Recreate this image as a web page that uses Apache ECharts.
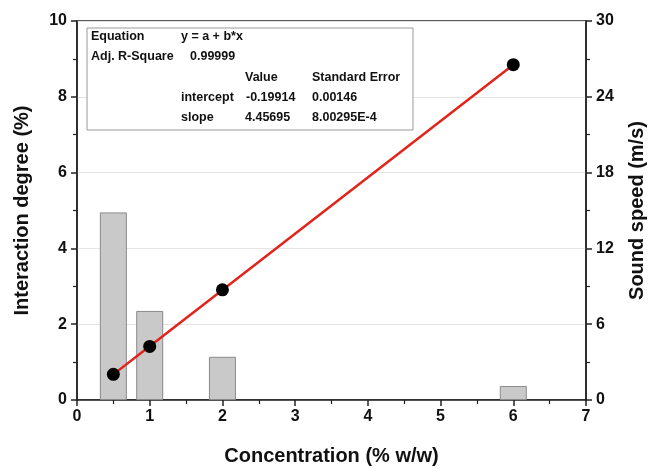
<!DOCTYPE html>
<html lang="en">
<head>
    <meta charset="UTF-8">
    <title>Interaction degree and sound speed</title>
    <script src="https://cdn.jsdelivr.net/npm/echarts@6/dist/echarts.min.js"></script>
    <style>
        body, html { margin: 0; padding: 0; background: #fff; }
        #chart { width: 652px; height: 469px; }
    </style>
</head>
<body>
    <div id="chart"></div>
    <script>
        // bar data: interaction degree (%) vs concentration
        var barX = [0.5, 1, 2, 6];
        var interaction = [4.95, 2.35, 1.14, 0.37];
        // sound speed points and linear fit
        var pointX = [0.5, 1, 2, 6];
        var soundSpeed = [2.03, 4.24, 8.72, 26.54];
        var fitSpeed = [2.029, 4.258, 8.715, 26.542];
        // fit table rows
        var tableRows = [
            ['Equation', 'y = a + b*x', ''],
            ['Adj. R-Square', '0.99999', ''],
            ['', 'Value', 'Standard Error'],
            ['intercept', '-0.19914', '0.00146'],
            ['slope', '4.45695', '8.00295E-4']
        ];

        var font = 'Liberation Sans, Arial, sans-serif';

        var graphics = [{
            type: 'rect',
            shape: { x: 87, y: 28, width: 326, height: 102 },
            style: { fill: '#fff', stroke: '#999', lineWidth: 1 },
            z: 10
        }];
        // column x position for each row of the table
        var colX = [[91, 181, null], [91, 190, null], [null, 245, 312], [181, 246, 312], [181, 245, 312]];
        var rowY = [37, 57, 78, 98, 118];
        tableRows.forEach(function (row, i) {
            row.forEach(function (txt, j) {
                if (!txt) return;
                graphics.push({
                    type: 'text',
                    x: colX[i][j], y: rowY[i],
                    style: { text: txt, font: 'bold 12.5px ' + font, fill: '#111', textVerticalAlign: 'middle' },
                    z: 11
                });
            });
        });

        var bars = barX.map(function (x, i) { return [x, interaction[i]]; });
        var pts = pointX.map(function (x, i) { return [x, soundSpeed[i]]; });
        var fit = pointX.map(function (x, i) { return [x, fitSpeed[i]]; });

        var axisLabel = { fontFamily: font, fontWeight: 'bold', fontSize: 16, color: '#111' };
        var axisLine = { show: true, lineStyle: { color: '#222', width: 1.5 } };
        var axisTick = { show: true, length: 6, lineStyle: { color: '#222', width: 1.5 } };
        var minorTick = { show: true, splitNumber: 2, length: 4, lineStyle: { color: '#222', width: 1.2 } };
        var nameStyle = { fontFamily: font, fontWeight: 'bold', fontSize: 20, color: '#111' };

        var option = {
            backgroundColor: '#fff',
            animation: false,
            grid: {
                left: 77, right: 66, top: 21, bottom: 69,
                outerBoundsMode: 'none', containLabel: false,
                show: true, borderColor: '#222', borderWidth: 1.5
            },
            xAxis: {
                type: 'value', min: 0, max: 7, interval: 1,
                name: 'Concentration (% w/w)', nameLocation: 'middle', nameGap: 46, nameTextStyle: nameStyle,
                axisLine: axisLine, axisTick: axisTick, minorTick: minorTick,
                axisLabel: Object.assign({ margin: 9 }, axisLabel),
                splitLine: { show: false }
            },
            yAxis: [{
                type: 'value', min: 0, max: 10, interval: 2,
                name: 'Interaction degree (%)', nameLocation: 'middle', nameGap: 45, nameTextStyle: nameStyle,
                axisLine: axisLine, axisTick: axisTick, minorTick: minorTick,
                axisLabel: Object.assign({ margin: 10 }, axisLabel),
                splitLine: { show: true, lineStyle: { color: '#e4e4e4', width: 1 } }
            }, {
                type: 'value', min: 0, max: 30, interval: 6, position: 'right',
                name: 'Sound speed (m/s)', nameLocation: 'middle', nameGap: 41, nameRotate: 90, nameTextStyle: nameStyle,
                axisLine: axisLine, axisTick: axisTick, minorTick: minorTick,
                axisLabel: Object.assign({ margin: 10 }, axisLabel),
                splitLine: { show: false }
            }],
            series: [{
                type: 'bar', yAxisIndex: 0, data: bars, barWidth: 27,
                itemStyle: { color: '#c9c9c9', borderColor: '#8a8a8a', borderWidth: 1 }
            }, {
                type: 'line', yAxisIndex: 1, data: fit, symbol: 'none',
                lineStyle: { color: '#e3241b', width: 2.5 }, z: 3
            }, {
                type: 'scatter', yAxisIndex: 1, data: pts, symbolSize: 13,
                itemStyle: { color: '#000', opacity: 1 }, z: 4
            }],
            graphic: graphics
        };

        var chart = echarts.init(document.getElementById('chart'));
        chart.setOption(option);
    </script>
</body>
</html>
